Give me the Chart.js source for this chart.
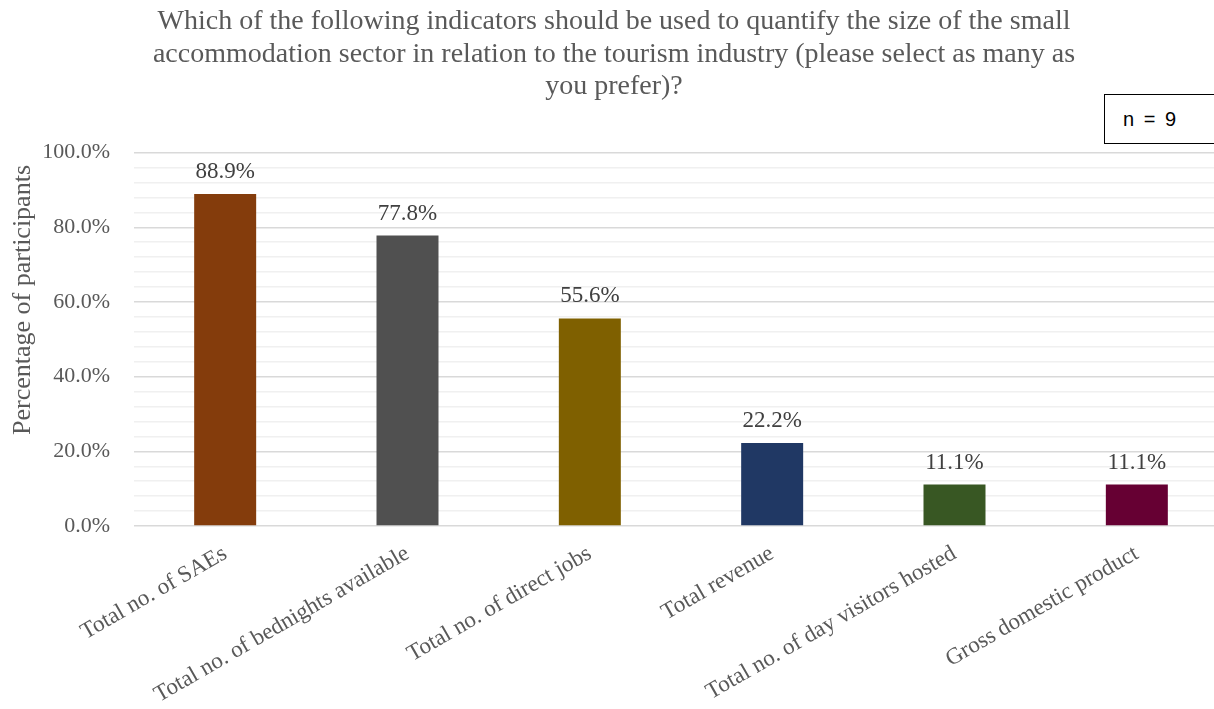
<!DOCTYPE html>
<html>
<head>
<meta charset="utf-8">
<script src="https://cdn.jsdelivr.net/npm/chart.js@4"></script>
<style>
  html, body { margin: 0; padding: 0; background: #fff; overflow: hidden; }
  #wrap { position: relative; width: 1230px; height: 709px; }
  #nbox {
    position: absolute; left: 1104px; top: 94px; width: 130px; height: 48px;
    border: 1px solid #000; background: #fff;
    font-family: "Liberation Sans", Arial, sans-serif; font-size: 20px; color: #000;
    word-spacing: 4px;
    line-height: 48px; padding-left: 18px; box-sizing: content-box;
  }
</style>
</head>
<body>
<div id="wrap">
  <canvas id="chart" width="1230" height="709"></canvas>
  <div id="nbox">n = 9</div>
</div>
<script>
const categories = [
    'Total no. of SAEs',
    'Total no. of bednights available',
    'Total no. of direct jobs',
    'Total revenue',
    'Total no. of day visitors hosted',
    'Gross domestic product'
];
const percentages = [88.9, 77.8, 55.6, 22.2, 11.1, 11.1];
const barColors = ['#843C0C', '#505050', '#7F6000', '#203864', '#385723', '#660033'];
const titleLines = [
    'Which of the following indicators should be used to quantify the size of the small',
    'accommodation sector in relation to the tourism industry (please select as many as',
    'you prefer)?'
];
const yTitle = 'Percentage of participants';

const serif = '"Liberation Serif", "Times New Roman", serif';

// value labels above each bar + the y axis caption
const extras = {
    id: 'extras',
    afterDatasetsDraw(chart) {
        const ctx = chart.ctx;
        const meta = chart.getDatasetMeta(0);
        ctx.save();
        ctx.font = '23px ' + serif;
        ctx.fillStyle = '#404040';
        ctx.textAlign = 'center';
        ctx.textBaseline = 'middle';
        meta.data.forEach(function (bar, i) {
            ctx.fillText(percentages[i].toFixed(1) + '%', bar.x, bar.y - 22);
        });
        ctx.restore();

        ctx.save();
        ctx.translate(23, 300);
        ctx.rotate(-Math.PI / 2);
        ctx.font = '26px ' + serif;
        ctx.fillStyle = '#595959';
        ctx.textAlign = 'center';
        ctx.textBaseline = 'middle';
        ctx.fillText(yTitle, 0, 0);
        ctx.restore();
    }
};

const ctx = document.getElementById('chart').getContext('2d');
new Chart(ctx, {
    type: 'bar',
    data: {
        labels: categories,
        datasets: [{
            data: percentages,
            backgroundColor: barColors,
            barPercentage: 0.68,
            categoryPercentage: 0.5
        }]
    },
    options: {
        responsive: false,
        animation: false,
        layout: { padding: { left: 0, right: 2, top: 0, bottom: 0 } },
        plugins: {
            legend: { display: false },
            tooltip: { enabled: false },
            title: {
                display: true,
                text: titleLines,
                color: '#595959',
                font: { family: serif, size: 28, weight: 'normal', lineHeight: 1.15 },
                padding: { top: 6, bottom: 50 }
            }
        },
        scales: {
            x: {
                grid: { display: false },
                border: { display: false },
                ticks: {
                    color: '#595959',
                    font: { family: serif, size: 23 },
                    maxRotation: 30,
                    minRotation: 30,
                    autoSkip: false,
                    padding: 6
                },
                afterFit: function (scale) { scale.height = 183; }
            },
            y: {
                min: 0,
                max: 100,
                border: { display: false },
                grid: {
                    drawTicks: false,
                    color: function (c) {
                        return c.tick.value % 20 === 0 ? '#d9d9d9' : '#f0f0f0';
                    },
                    lineWidth: 1.5
                },
                ticks: {
                    stepSize: 4,
                    autoSkip: false,
                    color: '#595959',
                    font: { family: serif, size: 22 },
                    padding: 24,
                    callback: function (v) {
                        return v % 20 === 0 ? v.toFixed(1) + '%' : '';
                    }
                },
                afterFit: function (scale) { scale.width = 134; }
            }
        }
    },
    plugins: [extras]
});
</script>
</body>
</html>
